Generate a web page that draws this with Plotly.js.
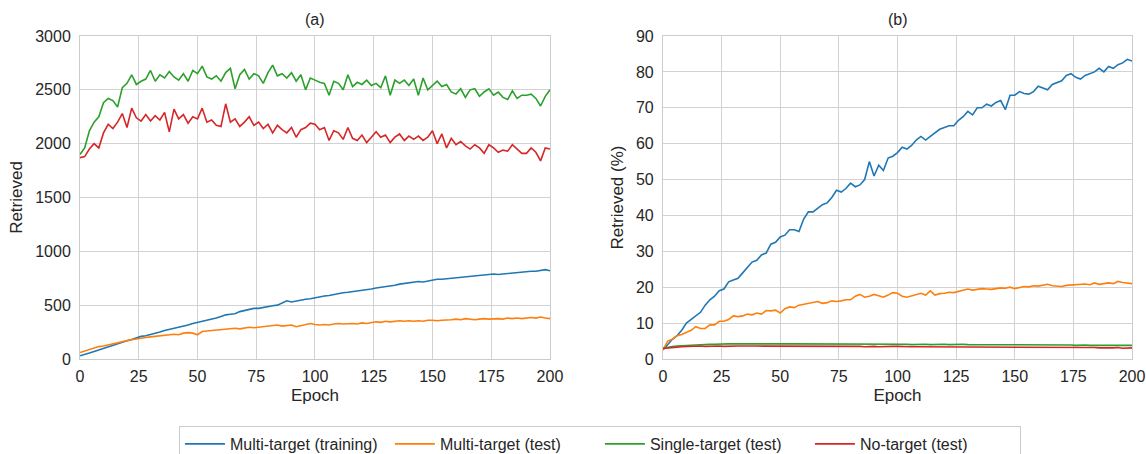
<!DOCTYPE html>
<html>
<head>
<meta charset="utf-8">
<script src="https://cdn.plot.ly/plotly-3.0.1.min.js"></script>
<style>html,body{margin:0;padding:0;background:#fff;overflow:hidden;}#chart{width:1146px;height:454px;}</style>
</head>
<body>
<div id="chart"></div>
<script>
const epochs = [0,2,4,6,8,10,12,14,16,18,20,22,24,26,28,30,32,34,36,38,40,42,44,46,48,50,52,54,56,58,60,62,64,66,68,70,72,74,76,78,80,82,84,86,88,90,92,94,96,98,100,102,104,106,108,110,112,114,116,118,120,122,124,126,128,130,132,134,136,138,140,142,144,146,148,150,152,154,156,158,160,162,164,166,168,170,172,174,176,178,180,182,184,186,188,190,192,194,196,198,200];

const seriesNames = ["Multi-target (training)", "Multi-target (test)", "Single-target (test)", "No-target (test)"];
const seriesColors = ["#1f77b4", "#ff7f0e", "#2ca02c", "#d62728"];

// Panel (a): retrieved counts
const countMultiTrain = [30,40,55,70,85,100,115,130,140,155,170,180,195,210,215,225,240,250,265,275,285,290,305,315,330,340,350,355,370,380,395,410,415,420,440,450,455,470,470,480,490,495,500,520,540,530,540,545,555,560,570,575,585,590,600,605,615,620,625,635,640,645,650,660,665,675,680,685,695,700,705,710,720,715,725,730,740,740,745,750,755,760,760,765,775,775,785,790,790,785,790,795,800,805,805,810,815,815,825,830,820];
const countMultiTest = [60,75,90,100,115,120,130,145,150,160,170,180,185,195,200,205,210,215,220,225,230,225,240,245,240,225,255,260,265,265,275,280,280,285,280,290,295,290,295,300,300,310,315,305,310,315,300,310,320,330,320,315,320,315,325,330,325,330,330,325,335,330,340,345,340,350,345,350,355,350,355,350,355,350,360,360,355,360,360,365,370,365,375,370,365,370,375,370,375,375,370,380,375,380,375,380,385,380,390,380,375];
const countSingleTest = [1900,1960,2120,2200,2250,2380,2420,2400,2340,2520,2560,2640,2550,2580,2600,2680,2580,2640,2610,2670,2620,2590,2650,2580,2680,2650,2720,2620,2600,2630,2580,2660,2700,2510,2640,2690,2600,2650,2630,2560,2660,2730,2630,2650,2610,2660,2580,2640,2500,2610,2590,2570,2560,2450,2580,2560,2500,2640,2530,2570,2550,2590,2540,2560,2520,2630,2450,2590,2560,2590,2540,2600,2450,2610,2500,2540,2580,2530,2550,2480,2460,2510,2430,2500,2510,2440,2480,2510,2450,2480,2430,2410,2490,2420,2450,2450,2460,2420,2350,2440,2500];
const countNoTest = [1870,1880,1950,2000,1960,2100,2180,2140,2200,2280,2150,2330,2240,2210,2270,2210,2260,2220,2290,2110,2320,2230,2270,2190,2250,2230,2330,2200,2220,2170,2160,2370,2200,2230,2160,2200,2250,2170,2200,2140,2180,2100,2170,2130,2100,2150,2060,2130,2150,2190,2180,2130,2150,2030,2120,2100,2040,2150,2050,2030,2080,2010,2060,2110,2060,2080,2010,2060,2090,2030,2070,2040,2070,2030,2060,2120,2000,2090,1960,2050,1990,2020,1980,1950,1990,1960,1910,1990,1960,1920,1940,1930,1990,1950,1910,1910,1960,1920,1840,1960,1950];

// Panel (b): retrieved percentages
const pctMultiTrain = [2.5,4,5.5,6.5,8,10,11,12,13,15,16.5,17.5,19,19.5,21.5,22,22.5,24,25.5,27,27.5,29,29.5,32,32.5,34,34.5,36,36,35.5,39,41,41,42,43,43.5,45,47,46.5,47.5,49,48,48.5,50,55,51,54,52.5,56,56.5,57.5,59,58.5,59.5,61,62,61,62,63,64,64.5,65,65,66.5,67.5,69,68,70,70,71,70.5,71.5,72,69.5,73.5,73.5,74.5,74,73.8,74.5,76,75.5,75,76.5,77,77.5,79,79.5,78.5,78,79,79.5,80,81,80,81.5,81,82,82.5,83.5,83];
const pctMultiTest = [2.5,5,5.5,6.5,6.8,7.5,8,9,8.5,8.5,9.5,9.5,10.5,10.5,11,12,11.8,12,12.5,12.3,12.8,12.5,13.5,13.4,13.6,12.8,14,14.5,14.3,15,15.3,15.5,15.8,16,15.5,15.7,16.2,16,16.2,16.5,16.5,17.5,18,17.2,17.5,18,17.6,17.2,17.8,18.5,18.3,17.5,17.2,17.5,18,18.3,17.8,19,17.8,18.2,18.3,18.6,18.5,18.8,19.3,19.5,19.2,19.4,19.6,19.5,19.4,19.6,19.8,19.7,20,19.6,20,20.2,20.1,20.4,20.3,20.5,20.8,20.4,20.3,20.2,20.5,20.6,20.8,20.7,20.9,20.7,21.2,20.8,21,21.2,21,21.6,21.3,21.2,21];
const pctSingleTest = [3,3.3,3.5,3.6,3.7,3.8,3.9,3.9,4,4,4.1,4.1,4.2,4.1,4.2,4.2,4.1,4.2,4.2,4.3,4.2,4.2,4.3,4.2,4.2,4.3,4.2,4.2,4.2,4.1,4.2,4.3,4.2,4.2,4.2,4.3,4.2,4.2,4.2,4.1,4.2,4.2,4.2,4.1,4.2,4.2,4.1,4.1,4.2,4.1,4.1,4.1,4.1,4.0,4.1,4.1,4.1,4.0,4.1,4.1,4.1,4.0,4.1,4.0,4.1,4.0,4.0,4.1,4.0,4.0,4.0,4.0,4.0,4.0,4.0,4.0,3.9,4.0,4.0,3.9,4.0,3.9,3.9,3.9,3.9,3.9,3.9,3.9,3.8,3.9,3.9,3.8,3.9,3.8,3.8,3.8,3.9,3.8,3.8,3.8,3.8];
const pctNoTest = [2.9,3.1,3.2,3.3,3.4,3.5,3.5,3.5,3.6,3.5,3.6,3.6,3.6,3.5,3.6,3.6,3.6,3.6,3.7,3.6,3.6,3.6,3.6,3.5,3.6,3.6,3.6,3.5,3.6,3.5,3.5,3.7,3.6,3.5,3.5,3.6,3.5,3.5,3.5,3.5,3.5,3.5,3.5,3.4,3.5,3.5,3.4,3.5,3.5,3.5,3.5,3.4,3.5,3.4,3.4,3.4,3.4,3.4,3.4,3.4,3.4,3.4,3.4,3.4,3.4,3.4,3.3,3.4,3.4,3.3,3.4,3.3,3.4,3.3,3.3,3.4,3.3,3.3,3.3,3.3,3.3,3.3,3.3,3.2,3.3,3.2,3.2,3.2,3.2,3.2,3.2,3.2,3.2,3.1,3.2,3.1,3.1,3.2,3.0,3.1,3.1];

const xTickVals = [0,25,50,75,100,125,150,175,200];
const yTicksA = [0,500,1000,1500,2000,2500,3000];
const yTicksB = [0,10,20,30,40,50,60,70,80,90];

const panelA = [countMultiTrain, countMultiTest, countSingleTest, countNoTest];
const panelB = [pctMultiTrain, pctMultiTest, pctSingleTest, pctNoTest];

const traces = [];
panelA.forEach((ys, i) => traces.push({x: epochs, y: ys, type: 'scatter', mode: 'lines', name: seriesNames[i], line: {color: seriesColors[i], width: 1.6}, xaxis: 'x', yaxis: 'y', showlegend: true, legendgroup: 'g' + i}));
panelB.forEach((ys, i) => traces.push({x: epochs, y: ys, type: 'scatter', mode: 'lines', name: seriesNames[i], line: {color: seriesColors[i], width: 1.6}, xaxis: 'x2', yaxis: 'y2', showlegend: false, legendgroup: 'g' + i}));

const font = {family: 'Liberation Sans, Arial, sans-serif', size: 16, color: '#262626'};
const axisCommon = {showline: true, mirror: true, linecolor: '#cccccc', linewidth: 1, gridcolor: '#d2d2d2', gridwidth: 1, zeroline: false, ticks: '', tickfont: {size: 16, color: '#262626'}};

const layout = {
  width: 1146, height: 454,
  margin: {l: 0, r: 0, t: 0, b: 0, autoexpand: false},
  paper_bgcolor: '#ffffff', plot_bgcolor: '#ffffff',
  font: font,
  showlegend: true,
  xaxis: Object.assign({}, axisCommon, {domain: [0.0698, 0.4799], range: [0, 200], tickvals: xTickVals, anchor: 'y', ticklabelstandoff: 3, title: {text: 'Epoch', font: {size: 17}, standoff: 4}}),
  yaxis: Object.assign({}, axisCommon, {domain: [0.2093, 0.9207], range: [0, 3000], tickvals: yTicksA, anchor: 'x', ticklabelstandoff: 5, title: {text: 'Retrieved', font: {size: 17}, standoff: 8}}),
  xaxis2: Object.assign({}, axisCommon, {domain: [0.5785, 0.9878], range: [0, 200], tickvals: xTickVals, anchor: 'y2', ticklabelstandoff: 3, title: {text: 'Epoch', font: {size: 17}, standoff: 4}}),
  yaxis2: Object.assign({}, axisCommon, {domain: [0.2093, 0.9207], range: [0, 90], tickvals: yTicksB, anchor: 'x2', ticklabelstandoff: 5, title: {text: 'Retrieved (%)', font: {size: 17}, standoff: 8}}),
  annotations: [
    {text: '(a)', xref: 'paper', yref: 'paper', x: 0.2749, y: 0.934, xanchor: 'center', yanchor: 'bottom', showarrow: false, font: {size: 16, color: '#262626'}},
    {text: '(b)', xref: 'paper', yref: 'paper', x: 0.7832, y: 0.934, xanchor: 'center', yanchor: 'bottom', showarrow: false, font: {size: 16, color: '#262626'}}
  ],
  legend: {orientation: 'h', x: 0.5235, xanchor: 'center', y: 0.0617, yanchor: 'top', bordercolor: '#cccccc', borderwidth: 1, font: {size: 16, color: '#262626'}, itemwidth: 40, traceorder: 'normal', entrywidth: 155, entrywidthmode: 'pixels'}
};

Plotly.newPlot('chart', traces, layout, {displayModeBar: false, staticPlot: true});
</script>
</body>
</html>
